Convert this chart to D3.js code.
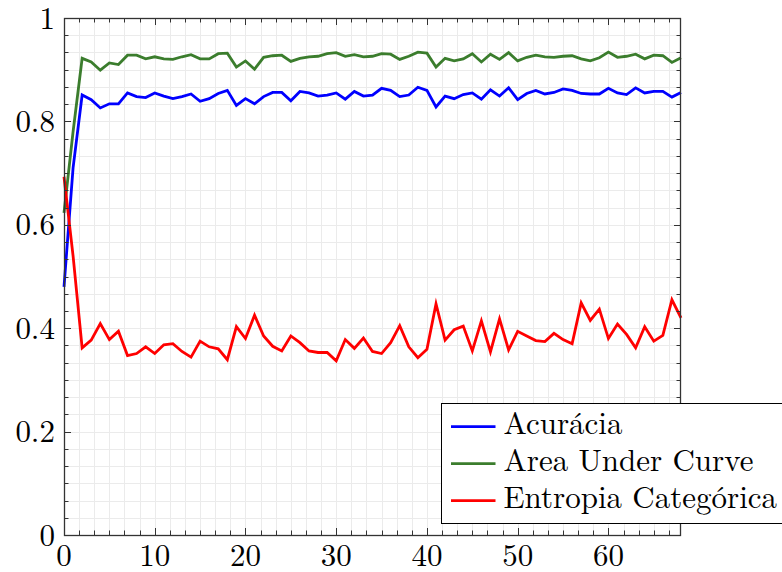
<!DOCTYPE html>
<html>
<head>
<meta charset="utf-8">
<script src="https://cdn.jsdelivr.net/npm/d3@7/dist/d3.min.js"></script>
<style>
  html, body { margin: 0; padding: 0; background: #fff; }
  svg { display: block; }
</style>
</head>
<body>
<svg id="chart" width="782" height="572"></svg>
<script>
const epochs = [0,1,2,3,4,5,6,7,8,9,10,11,12,13,14,15,16,17,18,19,20,21,22,23,24,25,26,27,28,29,30,31,32,33,34,35,36,37,38,39,40,41,42,43,44,45,46,47,48,49,50,51,52,53,54,55,56,57,58,59,60,61,62,63,64,65,66,67,68];

const acuracia = [0.48,0.71,0.851,0.842,0.826,0.834,0.834,0.855,0.848,0.846,0.855,0.849,0.844,0.848,0.853,0.839,0.844,0.854,0.860,0.831,0.844,0.834,0.848,0.856,0.856,0.840,0.858,0.855,0.849,0.851,0.855,0.843,0.858,0.849,0.851,0.864,0.860,0.848,0.851,0.866,0.860,0.828,0.849,0.844,0.852,0.855,0.843,0.861,0.849,0.865,0.842,0.854,0.860,0.853,0.856,0.863,0.860,0.854,0.853,0.853,0.864,0.855,0.852,0.865,0.855,0.858,0.858,0.847,0.856];

const auc = [0.623,0.78,0.922,0.915,0.899,0.913,0.910,0.928,0.928,0.921,0.925,0.921,0.920,0.925,0.929,0.921,0.921,0.931,0.932,0.905,0.917,0.901,0.924,0.927,0.928,0.916,0.922,0.925,0.926,0.931,0.933,0.926,0.929,0.925,0.926,0.931,0.930,0.920,0.926,0.934,0.932,0.905,0.922,0.917,0.921,0.931,0.915,0.930,0.920,0.933,0.917,0.924,0.928,0.925,0.924,0.926,0.927,0.921,0.917,0.923,0.934,0.924,0.926,0.930,0.921,0.928,0.927,0.914,0.923];

const entropia = [0.693,0.54,0.362,0.377,0.409,0.378,0.394,0.347,0.351,0.364,0.351,0.368,0.370,0.355,0.344,0.375,0.364,0.360,0.339,0.403,0.380,0.425,0.385,0.365,0.356,0.385,0.372,0.356,0.353,0.353,0.337,0.378,0.361,0.381,0.355,0.351,0.372,0.405,0.364,0.343,0.359,0.447,0.377,0.397,0.404,0.356,0.414,0.354,0.418,0.358,0.394,0.385,0.376,0.374,0.390,0.378,0.370,0.449,0.415,0.437,0.380,0.408,0.388,0.362,0.403,0.375,0.386,0.455,0.420];

const seriesNames = ["Acurácia", "Area Under Curve", "Entropia Categórica"];
const seriesColors = ["#0000ff", "#3b7d2d", "#ff0000"];
const seriesValues = [acuracia, auc, entropia];

const xTicks = [0,10,20,30,40,50,60];
const yTicks = [0,0.2,0.4,0.6,0.8,1];
const yTickLabels = ["0","0.2","0.4","0.6","0.8","1"];

const FONT = "'Latin Modern Roman', 'Liberation Serif', 'DejaVu Serif', serif";
const L = 64, R = 681, T = 18, B = 535;
const svg = d3.select("#chart");
const x = d3.scaleLinear().domain([0, 68]).range([L, R]);
const y = d3.scaleLinear().domain([0, 1]).range([B, T]);

const xMinor = d3.range(0, 68.001, 10/6);
const yMinor = d3.range(0, 1.0001, 0.2/6);

// grid
const grid = svg.append("g");
grid.selectAll("line.gx").data(xMinor).enter().append("line")
  .attr("x1", d => Math.round(x(d)) + 0.5).attr("x2", d => Math.round(x(d)) + 0.5)
  .attr("y1", T).attr("y2", B)
  .attr("stroke", "#ebebeb").attr("stroke-width", 1);
grid.selectAll("line.gy").data(yMinor).enter().append("line")
  .attr("y1", d => Math.round(y(d)) + 0.5).attr("y2", d => Math.round(y(d)) + 0.5)
  .attr("x1", L).attr("x2", R)
  .attr("stroke", "#ebebeb").attr("stroke-width", 1);

// lines
const line = d3.line().x((d, i) => x(epochs[i])).y(d => y(d));
seriesValues.forEach((vals, k) => {
  svg.append("path").datum(vals)
    .attr("d", line)
    .attr("fill", "none")
    .attr("stroke", seriesColors[k])
    .attr("stroke-width", 2.8)
    .attr("stroke-linejoin", "miter")
    .attr("stroke-miterlimit", 10);
});

// ticks
const tickColor = "#333";
const axisG = svg.append("g");
const majX = 7, minX = 4.5;
xMinor.forEach(v => {
  const isMaj = xTicks.some(t => Math.abs(t - v) < 1e-6);
  const len = isMaj ? majX : minX;
  const px = Math.round(x(v)) + 0.5;
  axisG.append("line").attr("x1", px).attr("x2", px).attr("y1", B).attr("y2", B - len).attr("stroke", tickColor);
  axisG.append("line").attr("x1", px).attr("x2", px).attr("y1", T).attr("y2", T + len).attr("stroke", tickColor);
});
yMinor.forEach(v => {
  const isMaj = yTicks.some(t => Math.abs(t - v) < 1e-6);
  const len = isMaj ? majX : minX;
  const py = Math.round(y(v)) + 0.5;
  axisG.append("line").attr("y1", py).attr("y2", py).attr("x1", L).attr("x2", L + len).attr("stroke", tickColor);
  axisG.append("line").attr("y1", py).attr("y2", py).attr("x1", R).attr("x2", R - len).attr("stroke", tickColor);
});

// frame
svg.append("rect").attr("x", L + 0.5).attr("y", T + 0.5)
  .attr("width", R - L - 1).attr("height", B - T)
  .attr("fill", "none").attr("stroke", tickColor).attr("stroke-width", 1.3);

// tick labels
const fs = 31;
svg.append("g").selectAll("text").data(xTicks).enter().append("text")
  .attr("x", d => x(d)).attr("y", 566)
  .attr("text-anchor", "middle").attr("font-size", fs)
  .attr("font-family", FONT).attr("fill", "#000")
  .text(d => d);
svg.append("g").selectAll("text").data(yTicks).enter().append("text")
  .attr("x", 55).attr("y", d => y(d) + 10.5)
  .attr("text-anchor", "end").attr("font-size", fs)
  .attr("font-family", FONT).attr("fill", "#000")
  .text((d, i) => yTickLabels[i]);

// legend
const lg = svg.append("g");
lg.append("rect").attr("x", 441.5).attr("y", 403.5).attr("width", 360).attr("height", 120)
  .attr("fill", "#fff").attr("stroke", "#000").attr("stroke-width", 1);
seriesNames.forEach((name, k) => {
  const cy = 426.7 + k * 37;
  lg.append("line").attr("x1", 451).attr("x2", 495.5).attr("y1", cy).attr("y2", cy)
    .attr("stroke", seriesColors[k]).attr("stroke-width", 2.8);
  lg.append("text").attr("x", 503.5).attr("y", cy + 7.5)
    .attr("font-size", fs).attr("font-family", FONT).attr("fill", "#000")
    .text(name);
});
</script>
</body>
</html>
